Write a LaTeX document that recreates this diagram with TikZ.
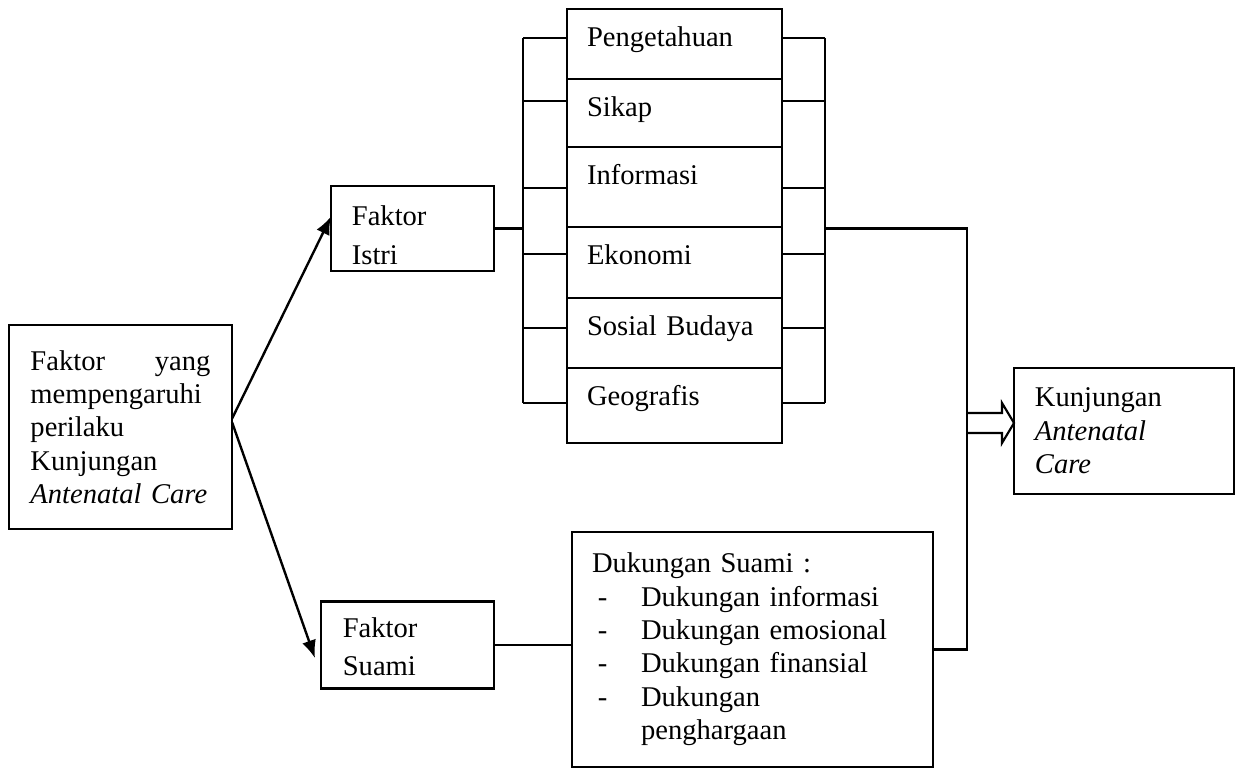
\documentclass[tikz,border=0pt]{standalone}
\usepackage{fontspec}
\setmainfont{Liberation Serif}
\usetikzlibrary{positioning,arrows.meta}

\tikzset{
  kotak/.style={draw, line width=0.9pt, inner ysep=0pt, outer sep=0pt, align=left, font=\fontsize{12}{14}\selectfont},
  baris/.style={kotak, text width=73.5pt, inner xsep=8.4pt, text height=15.75pt},
  panahhitam/.style={line width=1pt, -{Latex[length=7.5pt,width=6pt]}},
  garis/.style={line width=0.9pt}
}

\begin{document}
\begin{tikzpicture}[x=0.42pt, y=-0.42pt]
	\useasboundingbox (0,0) rectangle (1241,768);

	% kotak kiri
	\node[kotak, minimum width=93.7pt, minimum height=85.7pt, text width=75.6pt, inner xsep=9pt] (faktor) at (120.5,427)
		{Faktor\hfill yang\\ mempengaruhi\\ perilaku\\ Kunjungan\\ \textit{Antenatal Care}};

	\node[kotak, minimum width=68.5pt, minimum height=35.7pt, text width=50.9pt, inner xsep=8.8pt, text height=14pt] (istri) at (412.5,228.5)
		{Faktor\\[2pt] Istri};
	\node[kotak, minimum width=72.7pt, minimum height=36.5pt, text width=54.3pt, inner xsep=9.2pt, text height=10pt] (suami) at (407.5,645)
		{Faktor\\[2pt] Suami};

	% faktor istri
	\node[baris, anchor=north west, text depth=13.65pt] (peng) at (567,9) {Pengetahuan};
	\node[baris, below=0pt of peng, text depth=12.8pt] (sikap) {Sikap};
	\node[baris, below=0pt of sikap, text depth=17.85pt] (info) {Informasi};
	\node[baris, below=0pt of info, text depth=14.1pt] (eko) {Ekonomi};
	\node[baris, below=0pt of eko, text depth=13.65pt] (sos) {Sosial Budaya};
	\node[baris, below=0pt of sos, text depth=15.75pt] (geo) {Geografis};

	% faktor suami
	\node[kotak, minimum width=151.6pt, minimum height=98.7pt, text width=134.8pt, inner xsep=8.4pt] (duk) at (752.5,649.5)
		{Dukungan Suami :\\
		\makebox[20.6pt][l]{\hspace{2.5pt}-}Dukungan informasi\\
		\makebox[20.6pt][l]{\hspace{2.5pt}-}Dukungan emosional\\
		\makebox[20.6pt][l]{\hspace{2.5pt}-}Dukungan finansial\\
		\makebox[20.6pt][l]{\hspace{2.5pt}-}Dukungan\\
		\hspace*{20.6pt}penghargaan};

	\node[kotak, minimum width=92.4pt, minimum height=52.9pt, text width=74.8pt, inner xsep=8.8pt] (kunj) at (1124,431)
		{Kunjungan\\ \textit{Antenatal}\\ \textit{Care}};

	\coordinate (kiri) at (523,0);
	\coordinate (kanan) at (825,0);
	\coordinate (tengah) at (967,0);
	\coordinate (panah) at (967,423);

	% panah dari kotak kiri
	\draw[panahhitam] ([yshift=3.5pt]faktor.east) -- ([yshift=5pt]istri.west);
	\draw[panahhitam] ([yshift=2pt]faktor.east) -- ([xshift=-2.5pt,yshift=-5.5pt]suami.west);

	% kurung kiri dan kanan
	\foreach \n/\y in {peng/38, sikap/101, info/188, eko/254, sos/328, geo/403}
	{
		\draw[garis] (\n.west |- 0,\y) -- (kiri |- 0,\y);
		\draw[garis] (\n.east |- 0,\y) -- (kanan |- 0,\y);
	}
	\draw[garis] (kiri |- 0,38) -- (kiri |- 0,403);
	\draw[garis] (kanan |- 0,38) -- (kanan |- 0,403);

	\draw[garis] (istri.east) -- (kiri |- istri.east);
	\draw[garis] (suami.east) -- (duk.west |- suami.east);
	\draw[garis] (kanan |- istri.east) -| (tengah |- duk.east) -- (duk.east);

	% panah ke kunjungan
	\draw[garis, line join=miter] (panah) ++(0,-10) -- ++(35,0) -- ++(0,-10) -- (kunj.west |- panah)
		-- ++(-12,20) -- ++(0,-10) -- ++(-35,0);
\end{tikzpicture}
\end{document}
